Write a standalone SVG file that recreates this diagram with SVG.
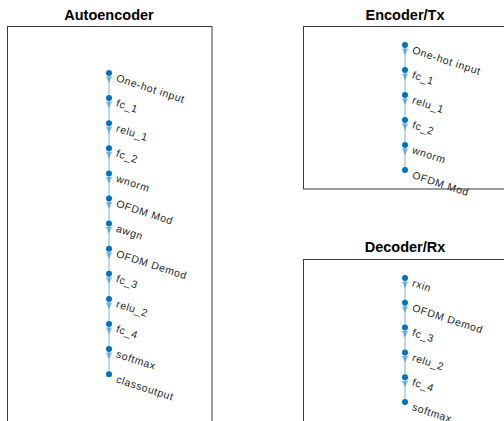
<svg xmlns="http://www.w3.org/2000/svg" width="504" height="421" viewBox="0 0 504 421">
<defs>
<style>
.title{font-family:"Liberation Sans",Arial,sans-serif;font-size:14.5px;font-weight:bold;fill:#000;text-anchor:middle}
.box{fill:#fff;stroke:#3a3a3a;stroke-width:1}
.lbl{font-family:"Liberation Sans",Arial,sans-serif;font-size:10.5px;letter-spacing:0.6px;fill:#262626}
.node{fill:#0072BD}
.edge{fill:none;stroke:#0072BD;stroke-opacity:0.35;stroke-width:1.6;marker-mid:url(#arr)}
</style>
<marker id="arr" viewBox="0 0 10 10" refX="10" refY="5" markerUnits="userSpaceOnUse" markerWidth="8" markerHeight="6.5" orient="auto">
<path d="M0,0 L10,5 L0,10 z" fill="#0072BD" fill-opacity="0.45"/>
</marker>
</defs>
<rect width="504" height="421" fill="#fff"/>

<g id="panel-autoencoder">
<text class="title" x="109" y="20">Autoencoder</text>
<rect class="box" x="7.5" y="26.5" width="204.5" height="420"/>
</g>
<g id="panel-encoder">
<text class="title" x="405" y="20">Encoder/Tx</text>
<rect class="box" x="303.5" y="26.5" width="210" height="162.5"/>
</g>
<g id="panel-decoder">
<text class="title" x="405" y="252">Decoder/Rx</text>
<rect class="box" x="303.5" y="259.5" width="210" height="200"/>
</g>

<g id="connectors">
<path class="edge" d="M109,73 L109,83 L109,98.1"/>
<path class="edge" d="M109,98.1 L109,108.1 L109,123.2"/>
<path class="edge" d="M109,123.2 L109,133.2 L109,148.3"/>
<path class="edge" d="M109,148.3 L109,158.3 L109,173.4"/>
<path class="edge" d="M109,173.4 L109,183.4 L109,198.5"/>
<path class="edge" d="M109,198.5 L109,208.5 L109,223.6"/>
<path class="edge" d="M109,223.6 L109,233.6 L109,248.7"/>
<path class="edge" d="M109,248.7 L109,258.7 L109,273.8"/>
<path class="edge" d="M109,273.8 L109,283.8 L109,298.9"/>
<path class="edge" d="M109,298.9 L109,308.9 L109,324"/>
<path class="edge" d="M109,324 L109,334 L109,349.1"/>
<path class="edge" d="M109,349.1 L109,359.1 L109,374.2"/>

<path class="edge" d="M405,45 L405,55 L405,70"/>
<path class="edge" d="M405,70 L405,80 L405,95"/>
<path class="edge" d="M405,95 L405,105 L405,120"/>
<path class="edge" d="M405,120 L405,130 L405,145"/>
<path class="edge" d="M405,145 L405,155 L405,170"/>

<path class="edge" d="M405,278 L405,288 L405,302.8"/>
<path class="edge" d="M405,302.8 L405,312.8 L405,327.6"/>
<path class="edge" d="M405,327.6 L405,337.6 L405,352.4"/>
<path class="edge" d="M405,352.4 L405,362.4 L405,377.2"/>
<path class="edge" d="M405,377.2 L405,387.2 L405,402"/>
</g>

<g id="ae-n1"><circle class="node" cx="109" cy="73" r="3"/><text class="lbl" transform="translate(115.5,81) rotate(18)">One-hot input</text></g>
<g id="ae-n2"><circle class="node" cx="109" cy="98.1" r="3"/><text class="lbl" transform="translate(115.5,106.1) rotate(18)">fc_1</text></g>
<g id="ae-n3"><circle class="node" cx="109" cy="123.2" r="3"/><text class="lbl" transform="translate(115.5,131.2) rotate(18)">relu_1</text></g>
<g id="ae-n4"><circle class="node" cx="109" cy="148.3" r="3"/><text class="lbl" transform="translate(115.5,156.3) rotate(18)">fc_2</text></g>
<g id="ae-n5"><circle class="node" cx="109" cy="173.4" r="3"/><text class="lbl" transform="translate(115.5,181.4) rotate(18)">wnorm</text></g>
<g id="ae-n6"><circle class="node" cx="109" cy="198.5" r="3"/><text class="lbl" transform="translate(115.5,206.5) rotate(18)">OFDM Mod</text></g>
<g id="ae-n7"><circle class="node" cx="109" cy="223.6" r="3"/><text class="lbl" transform="translate(115.5,231.6) rotate(18)">awgn</text></g>
<g id="ae-n8"><circle class="node" cx="109" cy="248.7" r="3"/><text class="lbl" transform="translate(115.5,256.7) rotate(18)">OFDM Demod</text></g>
<g id="ae-n9"><circle class="node" cx="109" cy="273.8" r="3"/><text class="lbl" transform="translate(115.5,281.8) rotate(18)">fc_3</text></g>
<g id="ae-n10"><circle class="node" cx="109" cy="298.9" r="3"/><text class="lbl" transform="translate(115.5,306.9) rotate(18)">relu_2</text></g>
<g id="ae-n11"><circle class="node" cx="109" cy="324" r="3"/><text class="lbl" transform="translate(115.5,332) rotate(18)">fc_4</text></g>
<g id="ae-n12"><circle class="node" cx="109" cy="349.1" r="3"/><text class="lbl" transform="translate(115.5,357.1) rotate(18)">softmax</text></g>
<g id="ae-n13"><circle class="node" cx="109" cy="374.2" r="3"/><text class="lbl" transform="translate(115.5,382.2) rotate(18)">classoutput</text></g>

<g id="tx-n1"><circle class="node" cx="405" cy="45" r="3"/><text class="lbl" transform="translate(411.5,53) rotate(18)">One-hot input</text></g>
<g id="tx-n2"><circle class="node" cx="405" cy="70" r="3"/><text class="lbl" transform="translate(411.5,78) rotate(18)">fc_1</text></g>
<g id="tx-n3"><circle class="node" cx="405" cy="95" r="3"/><text class="lbl" transform="translate(411.5,103) rotate(18)">relu_1</text></g>
<g id="tx-n4"><circle class="node" cx="405" cy="120" r="3"/><text class="lbl" transform="translate(411.5,128) rotate(18)">fc_2</text></g>
<g id="tx-n5"><circle class="node" cx="405" cy="145" r="3"/><text class="lbl" transform="translate(411.5,153) rotate(18)">wnorm</text></g>
<g id="tx-n6"><circle class="node" cx="405" cy="170" r="3"/><text class="lbl" transform="translate(411.5,178) rotate(18)">OFDM Mod</text></g>

<g id="rx-n1"><circle class="node" cx="405" cy="278" r="3"/><text class="lbl" transform="translate(411.5,286) rotate(18)">rxin</text></g>
<g id="rx-n2"><circle class="node" cx="405" cy="302.8" r="3"/><text class="lbl" transform="translate(411.5,310.8) rotate(18)">OFDM Demod</text></g>
<g id="rx-n3"><circle class="node" cx="405" cy="327.6" r="3"/><text class="lbl" transform="translate(411.5,335.6) rotate(18)">fc_3</text></g>
<g id="rx-n4"><circle class="node" cx="405" cy="352.4" r="3"/><text class="lbl" transform="translate(411.5,360.4) rotate(18)">relu_2</text></g>
<g id="rx-n5"><circle class="node" cx="405" cy="377.2" r="3"/><text class="lbl" transform="translate(411.5,385.2) rotate(18)">fc_4</text></g>
<g id="rx-n6"><circle class="node" cx="405" cy="402" r="3"/><text class="lbl" transform="translate(411.5,410) rotate(18)">softmax</text></g>
</svg>
